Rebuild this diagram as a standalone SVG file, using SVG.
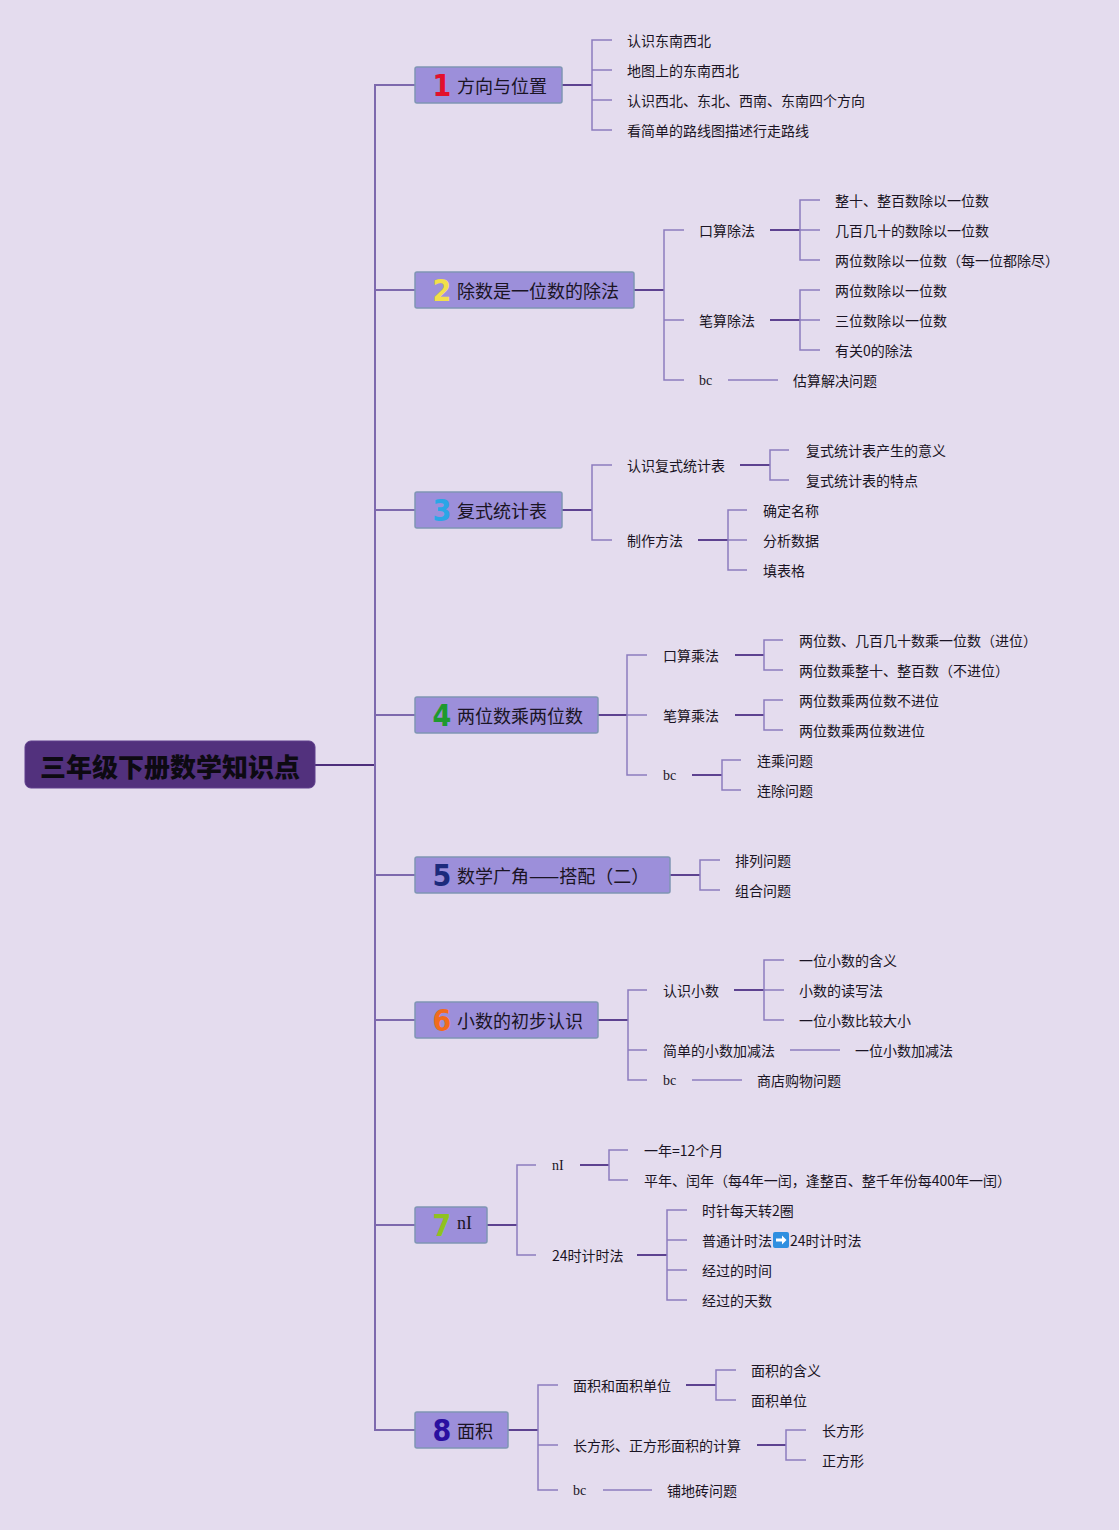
<svg xmlns="http://www.w3.org/2000/svg" width="1119" height="1530" viewBox="0 0 1119 1530">
<style>
.bg{fill:#e4dcee}
.root{fill:#52317d;stroke:#5e3f8c;stroke-width:1}
.rt{font-family:"Noto Sans CJK SC","Liberation Sans",sans-serif;font-size:26px;font-weight:900;fill:#0d0a12;text-anchor:middle;dominant-baseline:central}
.bx{fill:#9c8fda;stroke:#7f95b4;stroke-width:1.5}
.num{font-family:"DejaVu Sans Condensed","Liberation Sans Narrow","Liberation Sans",sans-serif;font-size:30px;font-weight:bold;text-anchor:middle;dominant-baseline:central}
.lab{font-family:"Noto Sans CJK SC","Liberation Sans",sans-serif;font-size:18px;fill:#1a1424;dominant-baseline:central}
.labs{font-family:"Liberation Serif","Noto Serif",serif;font-size:18px;fill:#1a1424;dominant-baseline:central}
.t{font-family:"Noto Sans CJK SC","Liberation Sans",sans-serif;font-size:14px;fill:#1a1424;dominant-baseline:central}
.ts{font-family:"Liberation Serif",serif;font-size:14px;fill:#1a1424;dominant-baseline:central}
.trunk{fill:none;stroke:#7d69ad;stroke-width:2}
.rc{fill:none;stroke:#4d2f7c;stroke-width:2}
.cn{fill:none;stroke:#5d4290;stroke-width:2}
.br{fill:none;stroke:#8c7cbf;stroke-width:1.5}
</style>
<rect class="bg" x="0" y="0" width="1119" height="1530"/>
<g id="connectors">
<path class="rc" d="M315,765 H375"/>
<path class="trunk" d="M415,85 H375 V1430 H415 M375,290 H415 M375,510 H415 M375,715 H415 M375,875 H415 M375,1020 H415 M375,1225 H415"/>
<path class="cn" d="M562,85 H592"/>
<path class="br" d="M612,40 H592 V130 H612 M592,70 H612 M592,100 H612"/>
<path class="cn" d="M634,290 H664 M770,230 H800 M770,320 H800"/>
<path class="br" d="M684,230 H664 V380 H684 M664,320 H684 M820,200 H800 V260 H820 M800,230 H820 M820,290 H800 V350 H820 M800,320 H820 M728,380 H778"/>
<path class="cn" d="M562,510 H592 M740,465 H770 M698,540 H728"/>
<path class="br" d="M612,465 H592 V540 H612 M789,450 H770 V480 H789 M747,510 H728 V570 H747 M728,540 H747"/>
<path class="cn" d="M598,715 H627 M735,655 H764 M735,715 H764 M692,775 H722"/>
<path class="br" d="M647,655 H627 V775 H647 M627,715 H647 M783,640 H764 V670 H783 M783,700 H764 V730 H783 M741,760 H722 V790 H741"/>
<path class="cn" d="M670,875 H700"/>
<path class="br" d="M720,860 H700 V890 H720"/>
<path class="cn" d="M598,1020 H628 M734,990 H764"/>
<path class="br" d="M647,990 H628 V1080 H647 M628,1050 H647 M784,960 H764 V1020 H784 M764,990 H784 M790,1050 H840 M692,1080 H742"/>
<path class="cn" d="M487,1225 H517 M580,1165 H609 M637,1255 H667"/>
<path class="br" d="M536,1165 H517 V1255 H536 M628,1150 H609 V1180 H628 M687,1210 H667 V1300 H687 M667,1240 H687 M667,1270 H687"/>
<path class="cn" d="M508,1430 H538 M686,1385 H716 M757,1445 H786"/>
<path class="br" d="M558,1385 H538 V1490 H558 M538,1445 H558 M736,1370 H716 V1400 H736 M806,1430 H786 V1460 H806 M603,1490 H652"/>
</g>
<g id="root">
<rect class="root" x="25" y="741" width="290" height="47" rx="6"/>
<text class="rt" x="170" y="765">三年级下册数学知识点</text>
</g>
<g id="n1">
<rect class="bx" x="415" y="67" width="147" height="36" rx="2"/>
<text class="num" x="442" y="85" fill="#e3102c">1</text>
<text class="lab" x="457" y="85">方向与位置</text>
</g>
<g id="n1-leaves">
<text class="t" x="627" y="40">认识东南西北</text>
<text class="t" x="627" y="70">地图上的东南西北</text>
<text class="t" x="627" y="100">认识西北、东北、西南、东南四个方向</text>
<text class="t" x="627" y="130">看简单的路线图描述行走路线</text>
</g>
<g id="n2">
<rect class="bx" x="415" y="272" width="219" height="36" rx="2"/>
<text class="num" x="442" y="290" fill="#f2df4a">2</text>
<text class="lab" x="457" y="290">除数是一位数的除法</text>
</g>
<g id="n2-children">
<text class="t" x="699" y="230">口算除法</text>
<text class="t" x="699" y="320">笔算除法</text>
<text class="ts" x="699" y="380">bc</text>
<text class="t" x="835" y="200">整十、整百数除以一位数</text>
<text class="t" x="835" y="230">几百几十的数除以一位数</text>
<text class="t" x="835" y="260">两位数除以一位数（每一位都除尽）</text>
<text class="t" x="835" y="290">两位数除以一位数</text>
<text class="t" x="835" y="320">三位数除以一位数</text>
<text class="t" x="835" y="350">有关0的除法</text>
<text class="t" x="793" y="380">估算解决问题</text>
</g>
<g id="n3">
<rect class="bx" x="415" y="492" width="147" height="36" rx="2"/>
<text class="num" x="442" y="510" fill="#2aa6e6">3</text>
<text class="lab" x="457" y="510">复式统计表</text>
</g>
<g id="n3-children">
<text class="t" x="627" y="465">认识复式统计表</text>
<text class="t" x="627" y="540">制作方法</text>
<text class="t" x="806" y="450">复式统计表产生的意义</text>
<text class="t" x="806" y="480">复式统计表的特点</text>
<text class="t" x="763" y="510">确定名称</text>
<text class="t" x="763" y="540">分析数据</text>
<text class="t" x="763" y="570">填表格</text>
</g>
<g id="n4">
<rect class="bx" x="415" y="697" width="183" height="36" rx="2"/>
<text class="num" x="442" y="715" fill="#1e9a2e">4</text>
<text class="lab" x="457" y="715">两位数乘两位数</text>
</g>
<g id="n4-children">
<text class="t" x="663" y="655">口算乘法</text>
<text class="t" x="663" y="715">笔算乘法</text>
<text class="ts" x="663" y="775">bc</text>
<text class="t" x="799" y="640">两位数、几百几十数乘一位数（进位）</text>
<text class="t" x="799" y="670">两位数乘整十、整百数（不进位）</text>
<text class="t" x="799" y="700">两位数乘两位数不进位</text>
<text class="t" x="799" y="730">两位数乘两位数进位</text>
<text class="t" x="757" y="760">连乘问题</text>
<text class="t" x="757" y="790">连除问题</text>
</g>
<g id="n5">
<rect class="bx" x="415" y="857" width="255" height="36" rx="2"/>
<text class="num" x="442" y="875" fill="#1c2a7c">5</text>
<text class="lab" x="457" y="875">数学广角——搭配（二）</text>
</g>
<g id="n5-children">
<text class="t" x="735" y="860">排列问题</text>
<text class="t" x="735" y="890">组合问题</text>
</g>
<g id="n6">
<rect class="bx" x="415" y="1002" width="183" height="36" rx="2"/>
<text class="num" x="442" y="1020" fill="#f26b1d">6</text>
<text class="lab" x="457" y="1020">小数的初步认识</text>
</g>
<g id="n6-children">
<text class="t" x="663" y="990">认识小数</text>
<text class="t" x="663" y="1050">简单的小数加减法</text>
<text class="ts" x="663" y="1080">bc</text>
<text class="t" x="799" y="960">一位小数的含义</text>
<text class="t" x="799" y="990">小数的读写法</text>
<text class="t" x="799" y="1020">一位小数比较大小</text>
<text class="t" x="855" y="1050">一位小数加减法</text>
<text class="t" x="757" y="1080">商店购物问题</text>
</g>
<g id="n7">
<rect class="bx" x="415" y="1207" width="72" height="36" rx="2"/>
<text class="num" x="442" y="1225" fill="#8fc21f">7</text>
<text class="labs" x="457" y="1223">nI</text>
</g>
<g id="n7-children">
<text class="ts" x="552" y="1165">nI</text>
<text class="t" x="552" y="1255">24时计时法</text>
<text class="t" x="644" y="1150">一年=12个月</text>
<text class="t" x="644" y="1180">平年、闰年（每4年一闰，逢整百、整千年份每400年一闰）</text>
<text class="t" x="702" y="1210">时针每天转2圈</text>
<text class="t" x="702" y="1240">普通计时法</text>
<rect x="773" y="1232" width="16" height="16" rx="2" fill="#2f8fe0"/>
<path d="M776,1238.5 H782 V1235.5 L786.5,1240 L782,1244.5 V1241.5 H776 Z" fill="#ffffff"/>
<text class="t" x="790" y="1240">24时计时法</text>
<text class="t" x="702" y="1270">经过的时间</text>
<text class="t" x="702" y="1300">经过的天数</text>
</g>
<g id="n8">
<rect class="bx" x="415" y="1412" width="93" height="36" rx="2"/>
<text class="num" x="442" y="1430" fill="#2a0fa0">8</text>
<text class="lab" x="457" y="1430">面积</text>
</g>
<g id="n8-children">
<text class="t" x="573" y="1385">面积和面积单位</text>
<text class="t" x="573" y="1445">长方形、正方形面积的计算</text>
<text class="ts" x="573" y="1490">bc</text>
<text class="t" x="751" y="1370">面积的含义</text>
<text class="t" x="751" y="1400">面积单位</text>
<text class="t" x="822" y="1430">长方形</text>
<text class="t" x="822" y="1460">正方形</text>
<text class="t" x="667" y="1490">铺地砖问题</text>
</g>
</svg>
